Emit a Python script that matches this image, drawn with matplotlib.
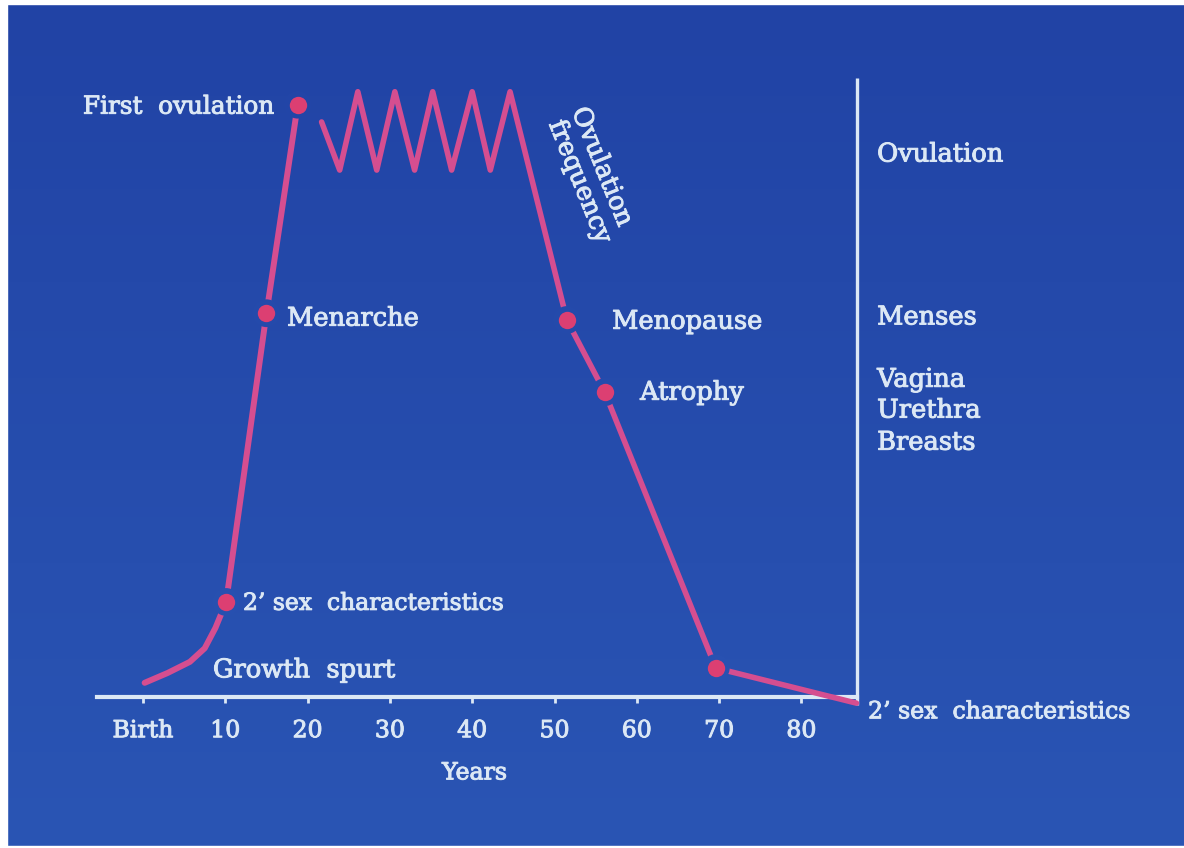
import numpy as np
import matplotlib
matplotlib.use("Agg")
import matplotlib.pyplot as plt
import matplotlib.patheffects as pe
from matplotlib.patches import Rectangle

# ---------------- data (age in years, relative level) ----------------
rise_age   = [0.2, 3.0, 5.7, 7.5, 8.8, 10.1, 15.0, 18.8]
rise_level = [2.3, 3.9, 5.7, 7.9, 11.2, 15.4, 62.2, 96.0]

fall_age   = [21.7, 23.9, 26.1, 28.4, 30.6, 33.0, 35.2, 37.5, 40.0, 42.2, 44.6,
              51.5, 56.1, 69.6, 86.7]
fall_level = [93.2, 85.4, 98.1, 85.4, 98.1, 85.4, 98.1, 85.4, 98.1, 85.4, 98.1,
              61.1, 49.4, 4.7, -1.0]

marker_age   = [10.1, 15.0, 18.8, 51.5, 56.1, 69.6]
marker_level = [15.4, 62.2, 96.0, 61.1, 49.4, 4.7]

tick_years  = [0, 10, 20, 30, 40, 50, 60, 70, 80]
tick_labels = ["Birth", "10", "20", "30", "40", "50", "60", "70", "80"]

axis_start = -5.6
axis_end = 86.7
top_level = 100.3

# ---------------- style ----------------
BG_TOP = np.array([33, 67, 165]) / 255
BG_BOT = np.array([42, 85, 180]) / 255
LINE_C = "#d54e90"
MARK_C = "#dc3f72"
TEXT_C = "#dce8f5"
FONT = "DejaVu Serif"
EMB = [pe.withStroke(linewidth=0.7, foreground=TEXT_C)]

fig = plt.figure(figsize=(11.84, 8.48), dpi=100)
fig.patch.set_facecolor("white")
ax = fig.add_axes([0, 0, 1, 1])

x0, x1 = -143 / 8.23, (1184 - 143) / 8.23
y0, y1 = (697 - 848) / 6.17, 697 / 6.17
ax.set_xlim(x0, x1)
ax.set_ylim(y0, y1)

# background gradient
grad = np.linspace(0, 1, 256)[:, None, None]
img = BG_TOP[None, None, :] * (1 - grad) + BG_BOT[None, None, :] * grad
ax.imshow(img, extent=[x0, x1, y0, y1], aspect="auto", origin="upper", zorder=0)

# halo colours follow the background gradient
frac = (y1 - np.asarray(marker_level)) / (y1 - y0)
halo_colors = BG_TOP[None, :] * (1 - frac[:, None]) + BG_BOT[None, :] * frac[:, None]

# axes decoration
for s in ["left", "right", "top"]:
    ax.spines[s].set_visible(False)
ax.spines["bottom"].set_position(("data", 0))
ax.spines["bottom"].set_bounds(axis_start, axis_end)
ax.spines["bottom"].set_color(TEXT_C)
ax.spines["bottom"].set_linewidth(3)
ax.spines["bottom"].set_zorder(3)
ax.set_xticks(tick_years, tick_labels)
ax.set_yticks([])
ax.tick_params(axis="x", direction="out", length=4, width=2, color=TEXT_C,
               pad=12, labelsize=17, labelcolor=TEXT_C)
for lab in ax.get_xticklabels():
    lab.set_fontfamily(FONT)
    lab.set_path_effects(EMB)

ax.vlines(axis_end, -1.3, top_level, color=TEXT_C, lw=2.4, zorder=3)

# curves
ax.plot(rise_age, rise_level, color=LINE_C, lw=4.3, solid_capstyle="round",
        solid_joinstyle="round", zorder=4)
ax.plot(fall_age, fall_level, color=LINE_C, lw=4.0, solid_capstyle="round",
        solid_joinstyle="round", zorder=4)
# halo & markers
ax.scatter(marker_age, marker_level, s=20 ** 2, c=halo_colors, linewidths=0, zorder=5)
ax.scatter(marker_age, marker_level, s=12.5 ** 2, c=MARK_C, linewidths=0, zorder=6)

tkw = dict(color=TEXT_C, family=FONT, fontsize=18.5, zorder=7, path_effects=EMB)
ax.text(16.0, 95.6, "First  ovulation", ha="right", va="center",
        **{**tkw, "fontsize": 17.8})
ax.text(17.5, 61.4, "Menarche", ha="left", va="center", **tkw)
ax.text(12.15, 15.1, "2\u2019 sex  characteristics", ha="left", va="center",
        **{**tkw, "fontsize": 16.9})
ax.text(8.5, 4.4, "Growth  spurt", ha="left", va="center", **tkw)
ax.text(57.0, 60.9, "Menopause", ha="left", va="center", **tkw)
ax.text(60.4, 49.4, "Atrophy", ha="left", va="center", **tkw)

ax.text(52.1, 95.0, "Ovulation", rotation=-68, rotation_mode="anchor",
        ha="left", va="baseline", **tkw)
ax.text(49.3, 92.9, "frequency", rotation=-68, rotation_mode="anchor",
        ha="left", va="baseline", **tkw)

ax.text(89.2, 88.0, "Ovulation", ha="left", va="center", **tkw)
ax.text(89.2, 61.6, "Menses", ha="left", va="center", **tkw)
ax.text(89.2, 51.5, "Vagina", ha="left", va="center", **tkw)
ax.text(89.2, 46.5, "Urethra", ha="left", va="center", **tkw)
ax.text(89.2, 41.3, "Breasts", ha="left", va="center", **tkw)
ax.text(88.1, -2.4, "2\u2019 sex  characteristics", ha="left", va="center",
        **{**tkw, "fontsize": 17.0})

ax.text(40.3, -12.3, "Years", ha="center", va="center", **{**tkw, "fontsize": 17})

# white slide border (top, left, bottom)
fig.patches.append(Rectangle((0, 1 - 4 / 848), 1, 4 / 848, transform=fig.transFigure,
                             color="white", zorder=10))
fig.patches.append(Rectangle((0, 0), 7 / 1184, 1, transform=fig.transFigure,
                             color="white", zorder=10))
fig.patches.append(Rectangle((0, 0), 1, 2 / 848, transform=fig.transFigure,
                             color="white", zorder=10))

fig.savefig("out.png", dpi=100, facecolor=fig.get_facecolor())
